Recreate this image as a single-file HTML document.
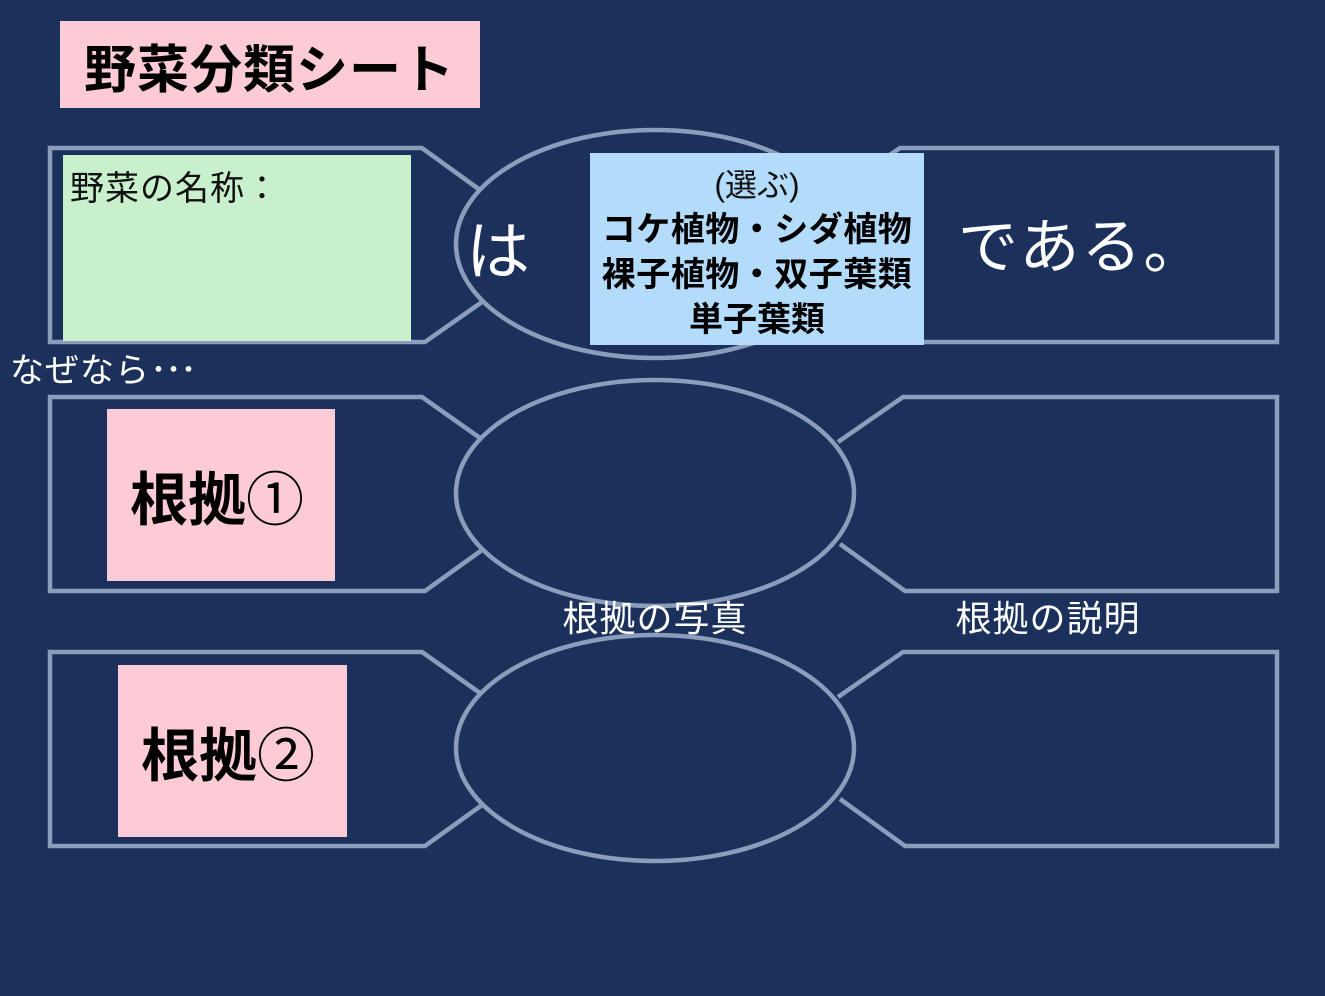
<!DOCTYPE html>
<html><head><meta charset="utf-8"><style>
html,body{margin:0;padding:0;background:#1b315c;}
svg{display:block}
text{font-family:"Liberation Sans","Noto Sans CJK JP",sans-serif;}
</style></head><body>
<svg width="1325" height="996" viewBox="0 0 1325 996" xmlns="http://www.w3.org/2000/svg">
<rect width="1325" height="996" fill="#1b315c"/>
<g fill="none" stroke="#8a9dba" stroke-width="4.5">
  <path d="M480,190 L422,148 L50,148 L50,342 L425,342 L482,302"/>
  <path d="M838,190 L900,148 L1277,148 L1277,342 L905,342 L840,300"/>
  <ellipse cx="655" cy="244" rx="199" ry="114"/>
  <path d="M480,438 L422,397 L50,397 L50,591 L425,591 L482,550"/>
  <path d="M838,442 L903,397 L1277,397 L1277,591 L905,591 L840,544"/>
  <ellipse cx="655" cy="493" rx="199" ry="113"/>
  <path d="M480,693 L422,652 L50,652 L50,846 L425,846 L482,805"/>
  <path d="M838,697 L903,652 L1277,652 L1277,846 L905,846 L840,799"/>
  <ellipse cx="655" cy="748" rx="199" ry="113"/>
</g>
<rect x="60" y="21" width="420" height="87" fill="#fccbd5"/>
<text x="84" y="88" font-size="52" font-weight="bold" fill="#000" letter-spacing="1">野菜分類シート</text>
<rect x="63" y="155" width="348" height="186" fill="#c9f0cd"/>
<text x="70" y="200" font-size="34" fill="#111" letter-spacing="1">野菜の名称：</text>
<text x="466" y="274" font-size="64" fill="#fff">は</text>
<rect x="590" y="153" width="334" height="192" fill="#b3dcfb"/>
<text x="757" y="196" font-size="32" fill="#111" text-anchor="middle">(選ぶ)</text>
<text x="757" y="241" font-size="34" font-weight="bold" fill="#000" text-anchor="middle" letter-spacing="0.5">コケ植物・シダ植物</text>
<text x="757" y="286" font-size="34" font-weight="bold" fill="#000" text-anchor="middle" letter-spacing="0.5">裸子植物・双子葉類</text>
<text x="757" y="331" font-size="34" font-weight="bold" fill="#000" text-anchor="middle">単子葉類</text>
<text x="958" y="268" font-size="60" fill="#fff" letter-spacing="2">である。</text>
<text x="10" y="382" font-size="34" fill="#fff" letter-spacing="1">なぜなら<tspan letter-spacing="-2">･･･</tspan></text>
<rect x="107" y="409" width="228" height="172" fill="#fccbd5"/>
<text x="130" y="520" font-size="58" font-weight="bold" fill="#000">根拠<tspan font-weight="normal">①</tspan></text>
<rect x="118" y="665" width="229" height="172" fill="#fccbd5"/>
<text x="141" y="776" font-size="58" font-weight="bold" fill="#000">根拠<tspan font-weight="normal">②</tspan></text>
<text x="655" y="631" font-size="36" fill="#fff" text-anchor="middle" letter-spacing="1">根拠の写真</text>
<text x="1048" y="631" font-size="36" fill="#fff" text-anchor="middle" letter-spacing="1">根拠の説明</text>
</svg>
</body></html>
